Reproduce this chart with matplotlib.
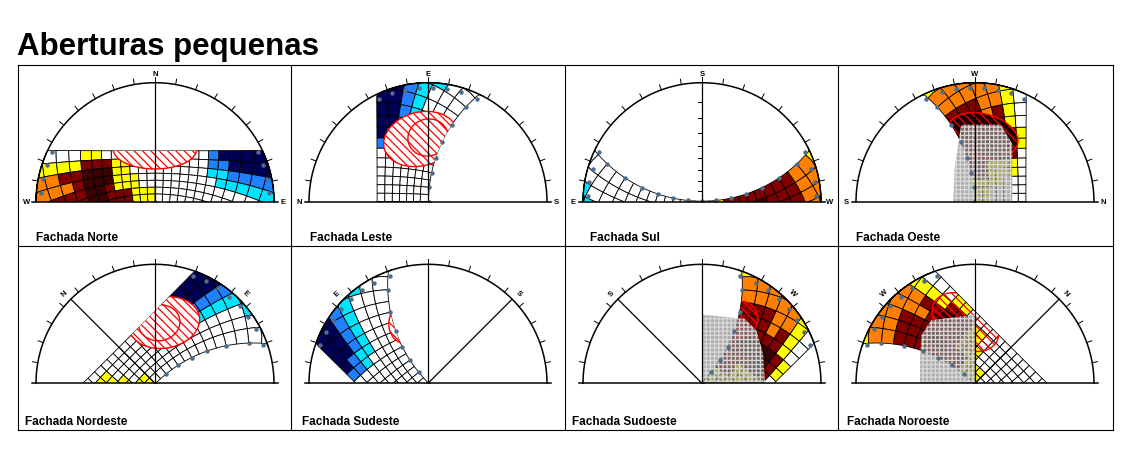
import numpy as np
import matplotlib
matplotlib.use('Agg')
import matplotlib.pyplot as plt
from matplotlib.patches import Ellipse, Polygon
from matplotlib.collections import PolyCollection

plt.rcParams['font.family'] = ['Liberation Sans', 'DejaVu Sans']
plt.rcParams['hatch.linewidth'] = 0.9

# ---- data ----
LAT = -22.9
DECL = [23.4, 17.0, 10.5, 4.0, -2.5, -9.0, -15.5, -23.4]
HOURS = [5.0, 5.5, 6.0, 6.5, 7.0, 7.5, 8.0, 8.5, 9.0, 9.5, 10.0, 10.5, 11.0, 11.5,
         12.0, 12.5, 13.0, 13.5, 14.0, 14.5, 15.0, 15.5, 16.0, 16.5, 17.0, 17.5,
         18.0, 18.5, 19.0]
# one letter per half hour cell, one string per declination band
CELLS = [
    "NNNNNNNBWWWWWWWWWWWWYYWWWWWW",
    "NNNNNNBBWWWWWWWWWYYRRRYYYYWW",
    "BBBBBBCCWWWWWWWWWYYKKKRROOYY",
    "CCCCCCCWWWWWWWWWYYYKKKROOOYY",
    "CCWWWWWWWWWWWWWWYYYRKKRRROOY",
    "WWWWWWWWWWWWWWYYYRRRKKRRROOY",
    "WWWWWWWWWWWWWWYYYRRRRRRRROOY",
]
CELL_COLORS = {'W': '#ffffff', 'Y': '#ffff00', 'O': '#ff8000', 'R': '#800000',
               'K': '#3c0000', 'C': '#00e5ff', 'B': '#2080ff', 'N': '#000055'}

PANELS = ['Fachada Norte', 'Fachada Leste', 'Fachada Sul', 'Fachada Oeste',
          'Fachada Nordeste', 'Fachada Sudeste', 'Fachada Sudoeste', 'Fachada Noroeste']
FACADE_AZ = [0, 90, 180, 270, 45, 135, 225, 315]
DIR_NAMES = {0: 'N', 90: 'E', 180: 'S', 270: 'W'}

# red hatched spots: (angle from facade normal, altitude, width, height, tilt)
RED_SPOTS = [
    [(0, 42.5, 0.70, 0.33, 0)],
    [(-6.8, 34.1, 0.63, 0.45, 15), (0, 33.3, 0.34, 0.31, 15)],
    [],
    [(6.9, 31.0, 0.60, 0.35, -15)],
    [(8.6, 35.4, 0.60, 0.43, 10), (4.0, 36.0, 0.35, 0.30, 10)],
    [(-19.8, 34.1, 0.30, 0.34, 0)],
    [(30.6, 25.8, 0.30, 0.30, 0)],
    [(-8.8, 35.0, 0.62, 0.42, -35)],
]
RED_FILL = ['white', 'white', 'none', '#1a0000', 'white', 'white', 'none', 'none']
# grey obstruction masks: (angle from facade normal, altitude)
MASKS = [
    None, None, None,
    [(-10.1, 23.4), (18.4, 21.4), (32.8, 30.0), (90, 55.2), (-90, 69.4), (-31.9, 54.2), (-14.3, 33.0)],
    None, None,
    [(0, 30.1), (33.6, 24.0), (46.0, 25.1), (64.4, 30.7), (90, 34.4), (0, 90)],
    [(0, 30.1), (-34.9, 24.3), (-48.4, 27.9), (-66.6, 36.6), (-90, 40.4), (0, 90)],
]
ALT_TICKS = [10, 20, 30, 40, 50, 60, 70, 80]
LABEL_DX = [18, 19, 25, 18, 7, 11, 7, 9]

# ---- layout in pixels ----
W, H = 1148, 464
R = 119.0
CELL_X = [18, 291, 565, 838, 1112.5]
ROW_Y = [65.5, 247, 430.5]
CENTER_Y = [202.7, 384.3]


def sun_xy(decl, hour, faz):
    d = np.radians(np.asarray(decl, float))
    h = np.radians(15.0 * (np.asarray(hour, float) - 12.0))
    p = np.radians(LAT)
    e = -np.cos(d) * np.sin(h)
    n = np.sin(d) * np.cos(p) - np.cos(d) * np.cos(h) * np.sin(p)
    u = np.sin(d) * np.sin(p) + np.cos(d) * np.cos(h) * np.cos(p)
    e, n, u = np.broadcast_arrays(e, n, u)
    hor = np.hypot(e, n) + 1e-12
    X = np.where(u >= 0, e / (1 + np.clip(u, 0, None)), e / hor)
    Y = np.where(u >= 0, n / (1 + np.clip(u, 0, None)), n / hor)
    f = np.radians(faz)
    return X * np.cos(f) - Y * np.sin(f), X * np.sin(f) + Y * np.cos(f)


def polar_xy(rel, alt):
    r = np.tan(np.radians(90 - np.asarray(alt, float)) / 2)
    a = np.radians(np.asarray(rel, float))
    return r * np.sin(a), r * np.cos(a)


fig = plt.figure(figsize=(W / 100, H / 100), dpi=100)
bg = fig.add_axes([0, 0, 1, 1])
bg.set_xlim(0, W)
bg.set_ylim(H, 0)
bg.axis('off')

bg.text(17, 32, 'Aberturas pequenas', fontsize=22.5, fontweight='bold', va='top', ha='left')
for x in CELL_X:
    bg.plot([x, x], [ROW_Y[0], ROW_Y[2]], color='black', lw=0.8)
for y in ROW_Y:
    bg.plot([CELL_X[0], CELL_X[-1]], [y, y], color='black', lw=0.8)

for k, name in enumerate(PANELS):
    row, col = divmod(k, 4)
    faz = FACADE_AZ[k]
    cx = CELL_X[col] + 137
    cy = CENTER_Y[row]
    bg.text(CELL_X[col] + LABEL_DX[k], ROW_Y[row + 1] - 5.5, name, fontsize=8.5,
            fontweight='bold', va='baseline', ha='left')

    ax = fig.add_axes([(cx - 1.2 * R) / W, (H - cy) / H, 2.4 * R / W, 1.2 * R / H])
    ax.set_xlim(-1.2, 1.2)
    ax.set_ylim(0, 1.2)
    ax.axis('off')

    # sun path cells
    polys, cols = [], []
    for i in range(len(DECL) - 1):
        for j in range(len(HOURS) - 1):
            hs = np.linspace(HOURS[j], HOURS[j + 1], 4)
            ds = np.linspace(DECL[i], DECL[i + 1], 3)
            dd = np.concatenate([np.full(4, DECL[i]), ds[1:], np.full(3, DECL[i + 1]), ds[::-1][1:-1]])
            hh = np.concatenate([hs, np.full(2, HOURS[j + 1]), hs[::-1][1:], np.full(1, HOURS[j])])
            x, y = sun_xy(dd, hh, faz)
            polys.append(np.column_stack([x, y]))
            cols.append(CELL_COLORS[CELLS[i][j]])
    ax.add_collection(PolyCollection(polys, facecolors=cols, edgecolors='black',
                                     linewidths=0.6, zorder=1))

    # outline of the sun path region, used to clip the red spots
    fh = np.linspace(HOURS[0], HOURS[-1], 240)
    fd = np.linspace(DECL[0], DECL[-1], 60)
    ox = [sun_xy(DECL[0], fh, faz), sun_xy(fd, HOURS[-1], faz),
          sun_xy(DECL[-1], fh[::-1], faz), sun_xy(fd[::-1], HOURS[0], faz)]
    outline = np.vstack([np.column_stack(p) for p in ox])
    region = Polygon(outline, closed=True, transform=ax.transData)

    for rel, alt, w, h, ang in RED_SPOTS[k]:
        ex, ey = polar_xy(rel, alt)
        el = Ellipse((ex, ey), w, h, angle=ang, facecolor=RED_FILL[k], edgecolor='red',
                     hatch='\\\\\\\\', lw=1.0, zorder=2)
        ax.add_patch(el)
        el.set_clip_path(region)

    if MASKS[k] is not None:
        mx, my = polar_xy([m[0] for m in MASKS[k]], [m[1] for m in MASKS[k]])
        ax.add_patch(Polygon(np.column_stack([mx, my]), closed=True,
                             facecolor=(0.55, 0.55, 0.55, 0.7), edgecolor=(0.85, 0.85, 0.85),
                             hatch='++++', lw=0, zorder=3))

    # date and hour markers
    mk = []
    for d in DECL:
        c = -np.tan(np.radians(LAT)) * np.tan(np.radians(d))
        h0 = np.degrees(np.arccos(np.clip(c, -1, 1))) / 15.0
        for hr in (12 - h0, 12 + h0):
            x, y = sun_xy(d, hr, faz)
            mk.append((float(x) * 0.96, float(y) * 0.96))
    for hr in HOURS[::2]:
        x, y = sun_xy(DECL[-1], hr, faz)
        if np.hypot(x, y) < 0.99:
            mk.append((float(x), float(y)))
    mk = np.array(mk)
    ax.plot(mk[:, 0], mk[:, 1], 'o', ms=3.2, color='#4f6d8a', mec='none', zorder=4)

    # frame of the diagram
    t = np.linspace(0, np.pi, 200)
    ax.plot(np.cos(t), np.sin(t), color='black', lw=1.1, zorder=5, clip_on=False)
    ax.plot([-1.03, 1.03], [0, 0], color='black', lw=1.1, zorder=5, clip_on=False)
    ax.plot([0, 0], [0, 1], color='black', lw=0.9, zorder=5)
    for a in range(-80, 90, 10):
        s, c = np.sin(np.radians(a)), np.cos(np.radians(a))
        ax.plot([s, 1.045 * s], [c, 1.045 * c], color='black', lw=0.7, zorder=5, clip_on=False)

    if faz % 90 == 0:
        ax.text(0, 1.075, DIR_NAMES[faz], fontsize=5.5, fontweight='bold', ha='center', va='center')
        ax.text(-1.08, 0, DIR_NAMES[(faz - 90) % 360], fontsize=5.5, fontweight='bold', ha='center', va='center')
        ax.text(1.075, 0, DIR_NAMES[(faz + 90) % 360], fontsize=5.5, fontweight='bold', ha='center', va='center')
        if faz == 180:
            for a in ALT_TICKS:
                yy = np.tan(np.radians(90 - a) / 2)
                ax.plot([-0.035, 0], [yy, yy], color='black', lw=0.7, zorder=5)
    else:
        for rel in (-45, 45):
            nm = DIR_NAMES[(faz + rel) % 360]
            s, c = np.sin(np.radians(rel)), np.cos(np.radians(rel))
            ax.text(1.075 * s, 1.075 * c, nm, fontsize=5.5, fontweight='bold', ha='center',
                    va='center', rotation=-rel)
            if nm in ('N', 'S'):
                ax.plot([0, s], [0, c], color='black', lw=0.9, zorder=5)

fig.savefig('out.png', dpi=100)
